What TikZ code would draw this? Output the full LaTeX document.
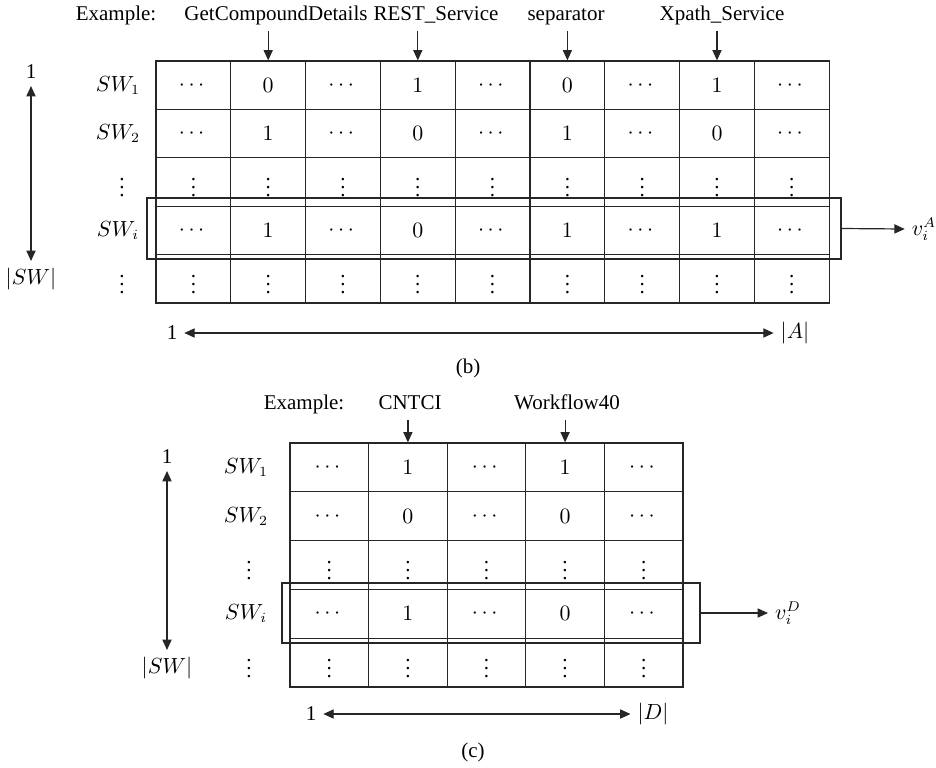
\documentclass[tikz,border=0pt]{standalone}
\usepackage{amsmath}
\usepackage{fontspec}
\setmainfont{Liberation Serif}
\usetikzlibrary{arrows.meta,positioning}

\tikzset{
  >={Triangle[length=5.2pt,width=4.6pt]},
  line/.style={draw=black!85,line width=0.6pt},
  cellb/.style={line,inner sep=0pt,minimum width=37.4pt,minimum height=24.2pt},
  cellc/.style={line,inner sep=0pt,minimum width=39.3pt,minimum height=24.4pt},
  toplab/.style={text height=7.2pt,text depth=2.2pt},
  pick/.style={->,line},
  span/.style={<->,line}
}

\begin{document}
\begin{tikzpicture}[x=0.5pt,y=-0.5pt,font=\fontsize{10.5}{12.6}\selectfont]
\useasboundingbox (0,0) rectangle (936,767);

% (b)
\foreach \r/\row in {1/{\cdots,0,\cdots,1,\cdots,0,\cdots,1,\cdots},
                     2/{\cdots,1,\cdots,0,\cdots,1,\cdots,0,\cdots},
                     3/{\vdots,\vdots,\vdots,\vdots,\vdots,\vdots,\vdots,\vdots,\vdots},
                     4/{\cdots,1,\cdots,0,\cdots,1,\cdots,1,\cdots},
                     5/{\vdots,\vdots,\vdots,\vdots,\vdots,\vdots,\vdots,\vdots,\vdots}}
  \foreach \v [count=\c] in \row
    \node[cellb] (b-\r-\c) at ({156+(\c-0.5)*74.8},{61+(\r-0.5)*48.4}) {$\v$};

\node (swb1) at (118,85.2) {$SW_1$};
\node (swb2) at (118,133.6) {$SW_2$};
\node (swb3) at (122,182) {$\vdots$};
\node (swb4) at (118,230.4) {$SW_i$};
\node (swb5) at (122,278.8) {$\vdots$};

\node[toplab] (exb) at (116,15) {Example:};
\node[toplab] (gcd) at (276,15) {GetCompoundDetails};
\node[toplab] (rest) at (436,15) {REST\_Service};
\node[toplab] (sep) at (566,15) {separator};
\node[toplab] (xps) at (722,15) {Xpath\_Service};
\draw[pick] (gcd.south -| b-1-2) -- (b-1-2.north);
\draw[pick] (rest.south -| b-1-4) -- (b-1-4.north);
\draw[pick] (sep.south -| b-1-6) -- (b-1-6.north);
\draw[pick] (xps.south -| b-1-8) -- (b-1-8.north);

\node[line,inner sep=0pt,minimum width=347pt,minimum height=30.5pt] (selb) at (494,228.5) {};
\node (vA) at (924,229) {$v_i^A$};
\draw[pick] (selb.east) -- (vA.west);

\node (oneb) at (31,72) {1};
\node (nswb) at (31,279) {$|SW|$};
\draw[span] (oneb) -- (nswb);

\node (onehb) at (172,333) {1};
\node (nA) at (795,333) {$|A|$};
\draw[span] (onehb) -- (nA);

\node (capb) at (468,368) {(b)};

% (c)
\foreach \r/\row in {1/{\cdots,1,\cdots,1,\cdots},
                     2/{\cdots,0,\cdots,0,\cdots},
                     3/{\vdots,\vdots,\vdots,\vdots,\vdots},
                     4/{\cdots,1,\cdots,0,\cdots},
                     5/{\vdots,\vdots,\vdots,\vdots,\vdots}}
  \foreach \v [count=\c] in \row
    \node[cellc] (c-\r-\c) at ({290+(\c-0.5)*78.6},{443+(\r-0.5)*48.8}) {$\v$};

\node (swc1) at (246,467.4) {$SW_1$};
\node (swc2) at (246,516.2) {$SW_2$};
\node (swc3) at (249,565) {$\vdots$};
\node (swc4) at (246,613.8) {$SW_i$};
\node (swc5) at (249,662.6) {$\vdots$};

\node[toplab] (exc) at (304,404) {Example:};
\node[toplab] (cntci) at (410,404) {CNTCI};
\node[toplab] (wf) at (567,404) {Workflow40};
\draw[pick] (cntci.south -| c-1-2) -- (c-1-2.north);
\draw[pick] (wf.south -| c-1-4) -- (c-1-4.north);

\node[line,inner sep=0pt,minimum width=209pt,minimum height=30pt] (selc) at (491,613) {};
\node (vD) at (788,613) {$v_i^D$};
\draw[pick] (selc.east) -- (vD.west);

\node (onec) at (167,457) {1};
\node (nswc) at (167,668) {$|SW|$};
\draw[span] (onec) -- (nswc);

\node (onehc) at (311,714) {1};
\node (nD) at (653,714) {$|D|$};
\draw[span] (onehc) -- (nD);

\node (capc) at (473,752) {(c)};
\end{tikzpicture}
\end{document}
